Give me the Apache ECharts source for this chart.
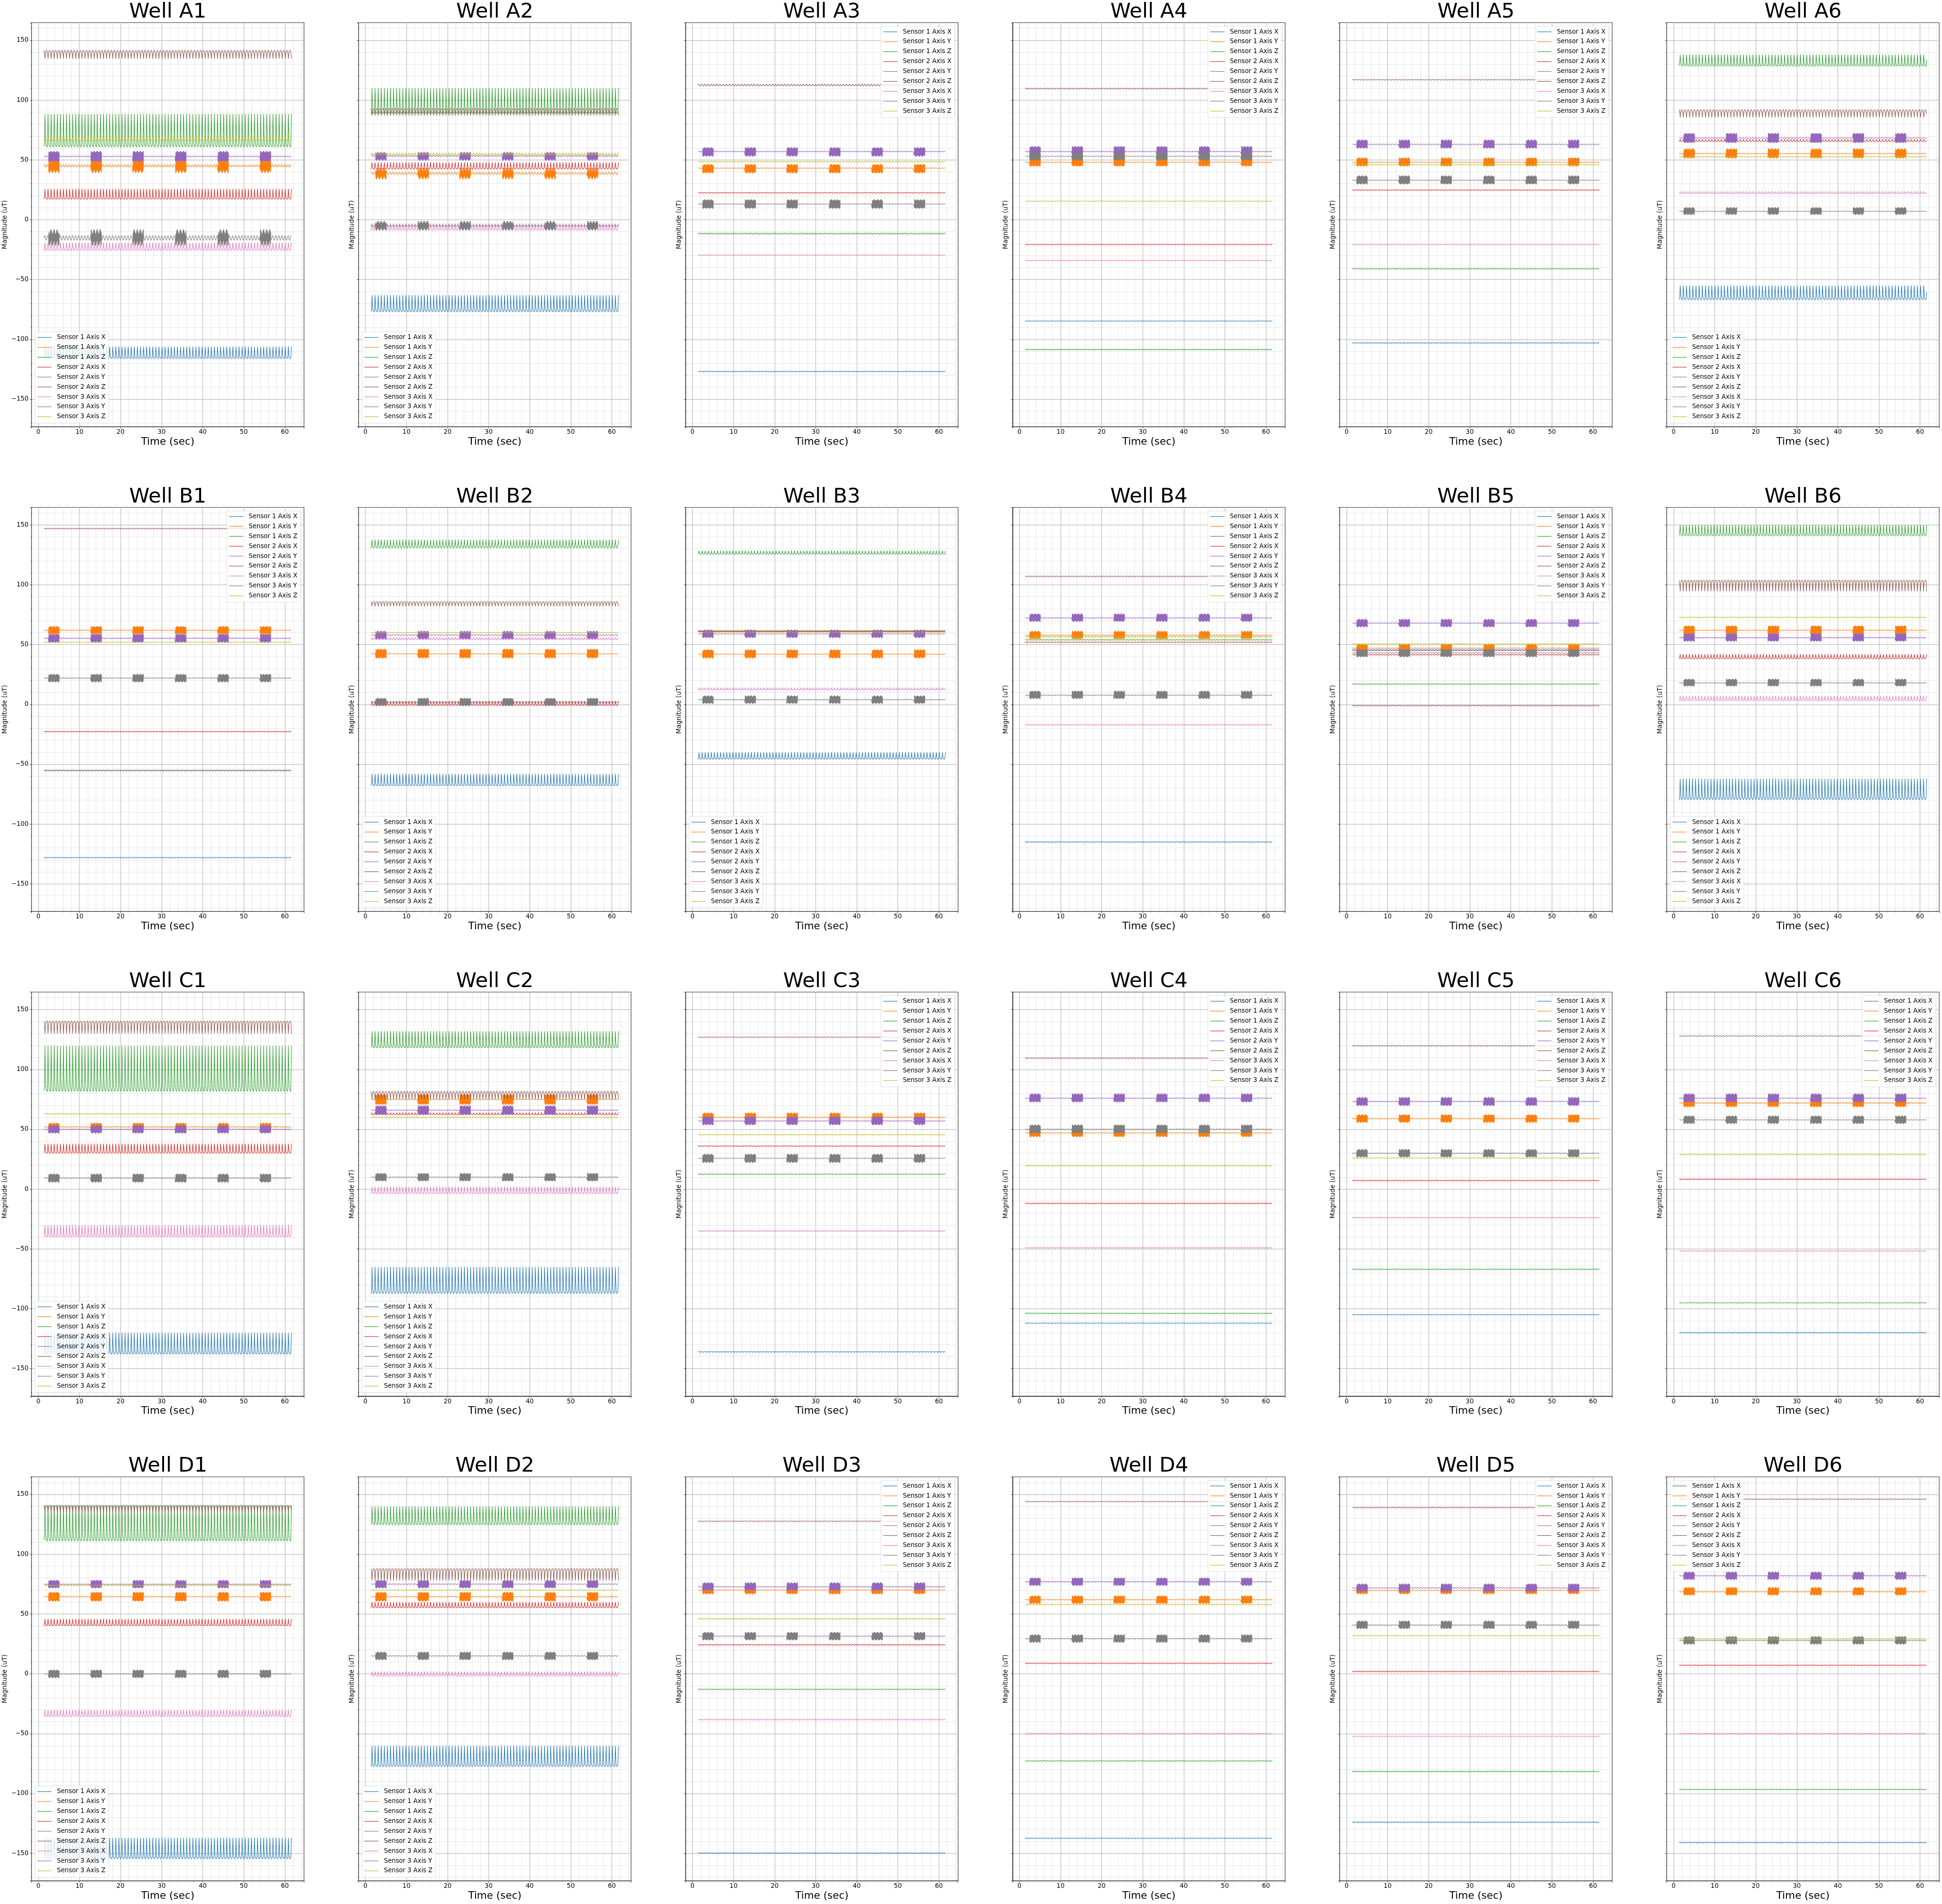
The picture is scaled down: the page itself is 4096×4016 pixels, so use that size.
<!DOCTYPE html>
<html><head><meta charset="utf-8">
<script src="https://cdn.jsdelivr.net/npm/echarts@6/dist/echarts.min.js"></script>
<style>html,body{margin:0;padding:0;background:#fff}#c{width:4096px;height:4016px}</style>
</head><body><div id="c"></div><script>
// ---------------- DATA ----------------
const wellNames = ["A1","A2","A3","A4","A5","A6","B1","B2","B3","B4","B5","B6","C1","C2","C3","C4","C5","C6","D1","D2","D3","D4","D5","D6"];
const seriesNames = ["Sensor 1 Axis X","Sensor 1 Axis Y","Sensor 1 Axis Z","Sensor 2 Axis X","Sensor 2 Axis Y","Sensor 2 Axis Z","Sensor 3 Axis X","Sensor 3 Axis Y","Sensor 3 Axis Z"];
const seriesColors = ["#1f77b4","#ff7f0e","#2ca02c","#d62728","#9467bd","#8c564b","#e377c2","#7f7f7f","#bcbd22"];
const xTicks = [0,10,20,30,40,50,60];
const yTicks = [-150,-100,-50,0,50,100,150];
const legendCorner = ["ll","ll","ur","ur","ur","ll","ur","ll","ll","ur","ur","ll","ll","ll","ur","ur","ur","ur","ll","ll","ur","ur","ur","ul"];
const beatPeriod = [0.75,0.75,0.75,0.75,0.75,0.77,0.75,0.75,0.75,0.75,0.75,0.75,0.75,0.75,0.75,0.75,0.75,0.75,0.75,0.75,0.75,0.75,0.75,0.75];
const tStart = 1.35, tEnd = 61.65;
const burstStarts = [2.5, 12.8, 23.0, 33.4, 43.7, 54.0];
const burstLength = 2.6;
// one beat, normalised trough(0)..peak(1)
const spikeCycle = [0.02, 0.0, 0.10, 0.55, 1.0, 0.62, 0.30, 0.14, 0.07, 0.04, 0.03, 0.02];
const smoothCycle = [0.5, 0.75, 0.93, 1.0, 0.93, 0.75, 0.5, 0.25, 0.07, 0.0, 0.07, 0.25];
// rows: [trough, peak, shape(1 spike up,-1 spike down,0 smooth), burstLow, burstHigh]
const A1 = [[-116,-106,1],[43.7,46.3,0,40.3,49.3],[60.7,88.5,1],[17.1,25.8,1],[52.3,53.5,0,49.0,56.8],[134.5,141.8,-1],[-26,-19.2,1],[-17.3,-13.2,0,-19.7,-10],[66.2,69.9,1]];
const A2 = [[-77,-63,1],[37.5,40,0,35,42],[88,110,1],[42,48,1],[52.5,54,0,50,56],[87,93,-1],[-9,-3,1],[-6,-4,0,-8,-2],[54,56,1]];
const A3 = [[-127.2,-126.4,0],[42.6,43.6,0,39.3,46],[-12.3,-10.9,0],[22,23,0],[56.5,57.5,0,53.3,60.1],[111.5,113.5,0],[-30,-29.2,0],[12.6,13.6,0,9.7,16.5],[48,49,0]];
const A4 = [[-85.2,-84.2,0],[47.5,48.5,0,45,52],[-109,-108,0],[-21.2,-20.2,0],[56.5,57.5,0,54,61],[109,110.2,0],[-34.5,-33.7,0],[52.5,53.5,0,50,56],[15,16,0]];
const A5 = [[-103.5,-102.5,0],[47.5,48.5,0,45,51.5],[-41.5,-40.5,0],[24.3,25.3,0],[62.5,63.5,0,60,66.5],[116.5,117.5,0],[-21.2,-20.2,0],[32.5,33.5,0,30,36.5],[45.5,46.5,0]];
const A6 = [[-67,-55,1],[54.8,55.8,0,51.7,59],[128.4,138.1,1],[65.1,67.4,1],[68,68.8,0,64.6,72],[85.5,92.2,-1],[21.7,23.7,1],[6.5,7.5,0,4.5,10],[52.2,53.1,0]];
const B1 = [[-128.5,-127.5,0],[61.5,62.5,0,59,65],[-55.5,-54.5,0],[-23.2,-22.2,0],[54.8,55.8,0,52,58.5],[146.5,147.5,0],[-56,-55,0],[21.5,22.5,0,19,25],[51.5,52.5,0]];
const B2 = [[-68,-58,1],[41.8,42.8,0,39,46],[130.5,137.7,1],[-1,3,1],[57.5,58.5,0,55,61],[82,86,-1],[54,56,1],[1.5,2.5,0,-1,5],[59.5,60.5,0]];
const B3 = [[-46,-40,1],[41.5,42.5,0,39,45.5],[125.5,128.5,1],[60.5,61.5,0],[58.5,59.5,0,56,62],[61,62,0],[12,14,1],[3.5,4.5,0,1,7],[60,61,0]];
const B4 = [[-115.5,-114.5,0],[57.3,58.3,0,55,61],[53.5,54.5,0],[51.5,52.5,0],[71.8,72.8,0,69.5,75.5],[106.5,107.5,0],[-17.5,-16.5,0],[7.2,8.2,0,5,11],[56,57,0]];
const B5 = [[45,46,0],[46.5,47.5,0,44,50],[16.5,17.5,0],[41,42,0],[67.5,68.5,0,65,71],[-1.5,-0.5,0],[44.5,45.5,0],[42.5,43.5,0,40,46],[50,51,0]];
const B6 = [[-80,-62,1],[61.5,62.5,0,59,65.5],[141,150,1],[38,42,1],[55.3,56.3,0,53,59],[94.5,103.8,-1],[3,7,1],[17.5,18.5,0,15.5,21],[72.3,73.3,0]];
const C1 = [[-138.4,-120,1],[51.5,52.5,0,49,55],[81.6,119.8,1],[30,38,1],[49.5,50.5,0,47,53],[130,140.5,-1],[-40,-30,1],[8.8,9.8,0,6,12.5],[62.5,63.5,0]];
const C2 = [[-88,-65,1],[74.5,75.5,0,71,79],[118,132,1],[62,64,1],[65.5,66.5,0,62.5,69.5],[75,82,-1],[-4,2,1],[9.5,10.5,0,7,13],[59.5,60.5,0]];
const C3 = [[-136.5,-135.5,0],[59.5,60.5,0,57,63.5],[12,13,0],[35.5,36.5,0],[56.5,57.5,0,54,60.5],[126.5,127.5,0],[-35.5,-34.5,0],[25.3,26.3,0,22.5,29],[45,46,0]];
const C4 = [[-112.5,-111.5,0],[46.5,47.5,0,44,50.5],[-104.3,-103.3,0],[-12.4,-11.4,0],[75.5,76.5,0,73,79.5],[109,110,0],[-49.5,-48.5,0],[49.5,50.5,0,47,53.5],[19.1,20.1,0]];
const C5 = [[-105.4,-104.4,0],[58.4,59.4,0,56,62],[-67.5,-66.5,0],[6.7,7.7,0],[72.8,73.8,0,70,76.5],[119.3,120.3,0],[-24.3,-23.3,0],[29.5,30.5,0,27,33],[25.5,26.5,0]];
const C6 = [[-120.5,-119.5,0],[71.5,72.5,0,69,75],[-95.5,-94.5,0],[7.8,8.8,0],[75.5,76.5,0,73,79.5],[127.5,128.5,0],[-52.2,-51.2,0],[57.4,58.4,0,55,61],[28.5,29.5,0]];
const D1 = [[-155,-137,1],[64,65,0,61,68],[111,141,1],[40,46,1],[74.4,75.4,0,72,78],[135,141,-1],[-36,-30,1],[-0.5,0.5,0,-3,3],[73.5,74.5,0]];
const D2 = [[-78,-60,1],[64,65,0,61,68],[124.5,140,1],[55,60,1],[74.5,75.5,0,72,78],[78,88,-1],[-2,2,1],[14.5,15.5,0,12,18],[69.5,70.5,0]];
const D3 = [[-150.3,-149.3,0],[69.5,70.5,0,67,73],[-13.4,-12.4,0],[23.8,24.8,0],[72.3,73.3,0,70,76],[127.1,128.1,0],[-38.7,-37.7,0],[31,32,0,28.5,34.5],[45.5,46.5,0]];
const D4 = [[-137.9,-136.9,0],[61.5,62.5,0,59,65],[-73.3,-72.3,0],[8.3,9.3,0],[76.5,77.5,0,74,80],[143.5,144.5,0],[-50.5,-49.5,0],[28.9,29.9,0,26.5,32.5],[57.5,58.5,0]];
const D5 = [[-124.5,-123.5,0],[69.2,70.2,0,67,73],[-82.1,-81.1,0],[1.5,2.5,0],[71.3,72.3,0,69,75],[138.5,139.5,0],[-52.7,-51.7,0],[40.3,41.3,0,38,44],[31.5,32.5,0]];
const D6 = [[-141.5,-140.5,0],[68.2,69.2,0,66,72],[-97.1,-96.1,0],[6.7,7.7,0],[81.5,82.5,0,79,85],[145.5,146.5,0],[-50.5,-49.5,0],[27.4,28.4,0,25,31],[28.7,29.7,0]];
const wellData = [A1,A2,A3,A4,A5,A6,B1,B2,B3,B4,B5,B6,C1,C2,C3,C4,C5,C6,D1,D2,D3,D4,D5,D6];

// ---------------- LAYOUT ----------------
const S = 0.721;
const W = 4096, H = 4016;
const gridLeft0 = 92.3*S, colPitch = 956.7*S, gridTop0 = 66.3*S, rowPitch = 1418*S;
const gw = 797*S, gh = 1182*S;
const xMin = -1.664, xMax = 64.66, yMin = -173, yMax = 164.7;
const FONT = 'DejaVu Sans';

function buildPoints(row, period) {
  const lo = row[0], hi = row[1], shape = row[2];
  const bLo = row.length > 3 ? row[3] : null, bHi = row.length > 4 ? row[4] : null;
  const tpl = shape === 0 ? smoothCycle : spikeCycle;
  const n = tpl.length, dt = period / n, amp = hi - lo, mid = (lo + hi) / 2;
  const pts = [];
  const nS = Math.floor((tEnd - tStart) / dt + 1e-9);
  for (let k = 0; k <= nS; k++) {
    const t = tStart + k * dt;
    const s = tpl[k % n];
    const v = lo + amp * (shape < 0 ? 1 - s : s);
    pts.push([t, v]);
    if (bLo !== null) {
      const tn = t + dt;
      for (const bs of burstStarts) {
        const be = bs + burstLength;
        const a = Math.max(t, bs), b = Math.min(tn, be);
        if (a < b) {
          let j = Math.ceil((a - bs) / 0.025 - 1e-9);
          for (; bs + j * 0.025 < b; j++) {
            const tt = bs + j * 0.025;
            if (tt <= t) continue;
            pts.push([tt, (j % 2 ? bHi : bLo) + (v - mid)]);
          }
        }
      }
    }
  }
  return pts;
}

const grids = [], xAxes = [], yAxes = [], series = [], titles = [], legends = [];
wellNames.forEach((wn, i) => {
  const r = Math.floor(i / 6), c = i % 6;
  const left = gridLeft0 + c * colPitch, top = gridTop0 + r * rowPitch;
  grids.push({left: left, top: top, width: gw, height: gh, show: true, borderColor: '#262626', borderWidth: 1.1, backgroundColor: 'transparent', containLabel: false});
  xAxes.push({
    type: 'value', gridIndex: i, min: xMin, max: xMax, splitNumber: 5,
    name: 'Time (sec)', nameLocation: 'middle', nameGap: 21, nameTextStyle: {fontSize: 21.5, color: '#000', fontFamily: FONT},
    axisLine: {show: true, onZero: false, lineStyle: {color: '#262626', width: 1.1}},
    axisTick: {show: true, length: 3.4, lineStyle: {color: '#262626', width: 1}},
    minorTick: {show: true, splitNumber: 5, length: 1.8, lineStyle: {color: '#262626', width: 0.8}},
    axisLabel: {show: true, fontSize: 13.2, color: '#000', fontFamily: FONT, margin: 5, showMinLabel: false, showMaxLabel: false,
      formatter: v => xTicks.indexOf(v) >= 0 ? String(v) : ''},
    splitLine: {show: true, showMinLine: false, showMaxLine: false, lineStyle: {color: '#c2c2c2', width: 1.4}},
    minorSplitLine: {show: true, lineStyle: {color: '#dedede', width: 0.75}}
  });
  yAxes.push({
    type: 'value', gridIndex: i, min: yMin, max: yMax, splitNumber: 5,
    name: 'Magnitude (uT)', nameLocation: 'middle', nameGap: c === 0 ? 49 : 7, nameRotate: 90,
    nameTextStyle: {fontSize: 13.5, color: '#000', fontFamily: FONT},
    axisLine: {show: true, onZero: false, lineStyle: {color: '#262626', width: 1.1}},
    axisTick: {show: true, length: 3.4, lineStyle: {color: '#262626', width: 1}},
    minorTick: {show: true, splitNumber: 5, length: 1.8, lineStyle: {color: '#262626', width: 0.8}},
    axisLabel: {show: c === 0, fontSize: 13.2, color: '#000', fontFamily: FONT, margin: 6.5, showMinLabel: false, showMaxLabel: false,
      formatter: v => yTicks.indexOf(v) >= 0 ? (v < 0 ? '\u2212' + Math.abs(v) : String(v)) : ''},
    splitLine: {show: true, showMinLine: false, showMaxLine: false, lineStyle: {color: '#c2c2c2', width: 1.4}},
    minorSplitLine: {show: true, lineStyle: {color: '#dedede', width: 0.75}}
  });
  titles.push({text: 'Well ' + wn, left: left + gw / 2, top: top - 43.9, textAlign: 'left', padding: 0,
    textStyle: {fontSize: 43.5, fontWeight: 'normal', color: '#000', fontFamily: FONT}});
  const lg = {
    data: seriesNames.slice(), orient: 'vertical', itemWidth: 29.8, itemHeight: 14, itemGap: 6.9,
    icon: 'path://M0 0H30V1.2H0Z', symbolKeepAspect: true,
    padding: [4.8, 6.5, 6.5, 5], backgroundColor: 'rgba(255,255,255,0.8)', borderColor: 'rgba(204,204,204,0.8)',
    borderWidth: 0.8, borderRadius: 2.5, selectedMode: false, z: 10,
    textStyle: {fontSize: 13.2, color: '#000', fontFamily: FONT, padding: [0, 0, 0, 6.5], lineHeight: 14}
  };
  const corner = legendCorner[i];
  if (corner === 'll') { lg.left = left + 7.2; lg.bottom = H - (top + gh - 7.6); }
  else if (corner === 'ur') { lg.right = W - (left + gw - 7.5); lg.top = top + 7.5; }
  else { lg.left = left + 7.2; lg.top = top + 7.5; }
  legends.push(lg);
  wellData[i].forEach((row, si) => {
    series.push({
      type: 'line', name: seriesNames[si], xAxisIndex: i, yAxisIndex: i,
      data: buildPoints(row, beatPeriod[i]), symbol: 'none', showSymbol: false, silent: true,
      color: seriesColors[si], lineStyle: {color: seriesColors[si], width: 1.1}, itemStyle: {color: seriesColors[si]},
      animation: false, z: 2
    });
  });
});

const chart = echarts.init(document.getElementById('c'), null, {renderer: 'canvas'});
const ctx = document.createElement('canvas').getContext('2d');
ctx.font = '43.5px "' + FONT + '"';
titles.forEach(t => { const w = ctx.measureText(t.text).width; t.left = t.left - w / 2; });
chart.setOption({
  animation: false,
  textStyle: {fontFamily: FONT},
  title: titles, legend: legends, grid: grids, xAxis: xAxes, yAxis: yAxes, series: series
});
</script></body></html>
